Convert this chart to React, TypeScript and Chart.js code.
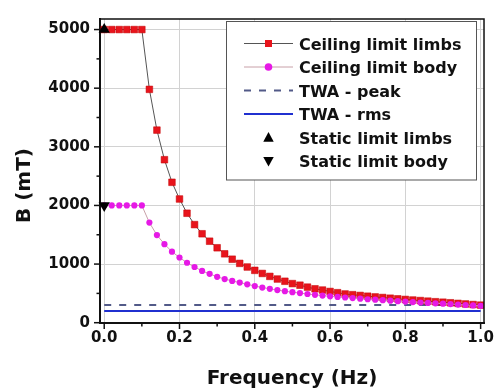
import React, { useEffect, useRef } from 'react';
import { Chart, registerables } from 'chart.js';

Chart.register(...registerables);

const FONT = '"DejaVu Sans", "Liberation Sans", sans-serif';

// Frequency (Hz)
const frequencies = [
  0, 0.02, 0.04, 0.06, 0.08, 0.1, 0.12, 0.14, 0.16, 0.18, 0.2, 0.22, 0.24, 0.26, 0.28, 0.3,
  0.32, 0.34, 0.36, 0.38, 0.4, 0.42, 0.44, 0.46, 0.48, 0.5, 0.52, 0.54, 0.56, 0.58, 0.6,
  0.62, 0.64, 0.66, 0.68, 0.7, 0.72, 0.74, 0.76, 0.78, 0.8, 0.82, 0.84, 0.86, 0.88, 0.9,
  0.92, 0.94, 0.96, 0.98, 1.0,
];

// B (mT)
const ceilingLimbs = [
  5000, 5000, 5000, 5000, 5000, 5000,
  3980, 3285, 2780, 2395, 2110, 1867, 1673, 1517, 1390, 1278,
  1175, 1083, 1012, 950, 893, 840, 790, 745, 707, 667,
  640, 607, 578, 557, 533, 512, 490, 478, 465, 452,
  440, 430, 418, 407, 397, 387, 378, 368, 358, 350,
  340, 330, 320, 310, 300,
];

const ceilingBody = [
  2000, 2000, 2000, 2000, 2000, 2000,
  1707, 1495, 1340, 1212, 1112, 1023, 950, 883, 833, 783,
  745, 712, 685, 655, 625, 600, 578, 557, 538, 520,
  505, 490, 476, 463, 450, 440, 430, 420, 410, 400,
  392, 384, 375, 367, 360, 352, 345, 338, 331, 324,
  317, 310, 302, 295, 288,
];

const twaX = [0, 1.0];
const twaPeak = [300, 300];
const twaRms = [200, 200];

const staticLimbsX = [0];
const staticLimbs = [5000];
const staticBodyX = [0];
const staticBody = [2000];

const xMajorTicks = [0, 0.2, 0.4, 0.6, 0.8, 1.0];
const xMinorTicks = [0.1, 0.3, 0.5, 0.7, 0.9];
const yMajorTicks = [0, 1000, 2000, 3000, 4000, 5000];
const yMinorTicks = [500, 1500, 2500, 3500, 4500];

const xTitle = 'Frequency (Hz)';
const yTitle = 'B (mT)';

const pts = (xs: number[], ys: number[]) => xs.map((x, i) => ({ x, y: ys[i] }));

const decorPlugin = {
  id: 'decor',
  afterDraw(chart: any) {
    const { ctx, chartArea: a, scales } = chart;
    const xs = scales.x;
    const ys = scales.y;
    ctx.save();
    // top / right frame
    ctx.strokeStyle = '#111';
    ctx.lineWidth = 1.5;
    ctx.beginPath();
    ctx.moveTo(a.left, a.top);
    ctx.lineTo(a.right, a.top);
    ctx.lineTo(a.right, a.bottom);
    ctx.stroke();

    // tick marks
    ctx.lineWidth = 1.5;
    const seg = (x1: number, y1: number, x2: number, y2: number) => {
      ctx.beginPath();
      ctx.moveTo(x1, y1);
      ctx.lineTo(x2, y2);
      ctx.stroke();
    };
    yMajorTicks.forEach((v) => { const p = ys.getPixelForValue(v); seg(a.left - 6, p, a.left, p); });
    yMinorTicks.forEach((v) => { const p = ys.getPixelForValue(v); seg(a.left - 3.5, p, a.left, p); });
    xMajorTicks.forEach((v) => { const p = xs.getPixelForValue(v); seg(p, a.bottom, p, a.bottom + 6); });
    xMinorTicks.forEach((v) => { const p = xs.getPixelForValue(v); seg(p, a.bottom, p, a.bottom + 3.5); });

    // axis titles
    ctx.fillStyle = '#111';
    ctx.font = `bold 20px ${FONT}`;
    ctx.textAlign = 'center';
    ctx.textBaseline = 'alphabetic';
    ctx.fillText(xTitle, (a.left + a.right) / 2, 383.5);
    ctx.save();
    ctx.translate(30, 185.5);
    ctx.rotate(-Math.PI / 2);
    ctx.fillText(yTitle, 0, 0);
    ctx.restore();

    // legend
    const bx = 226.5, by = 21.5, bw = 250, bh = 158.5;
    ctx.fillStyle = '#fff';
    ctx.fillRect(bx, by, bw, bh);
    ctx.strokeStyle = '#555';
    ctx.lineWidth = 1;
    ctx.strokeRect(bx, by, bw, bh);
    const rows = [43.5, 67, 90.5, 114, 137.5, 161];
    const lx1 = 244, lx2 = 293, mx = 268.5, tx = 299;
    chart.data.datasets.forEach((ds: any, i: number) => {
      const cy = rows[i];
      if (ds.showLine !== false) {
        ctx.save();
        ctx.strokeStyle = ds.borderColor;
        ctx.lineWidth = Math.max(1, ds.borderWidth);
        ctx.setLineDash(ds.borderDash || []);
        seg(lx1, cy, lx2, cy);
        ctx.restore();
      }
      if (ds.pointRadius > 0) {
        ctx.save();
        ctx.fillStyle = ds.pointBackgroundColor;
        ctx.strokeStyle = ds.pointBorderColor;
        ctx.lineWidth = 0.5;
        const r = ds.legendRadius;
        ctx.beginPath();
        if (ds.pointStyle === 'rect') {
          ctx.rect(mx - r, cy - r, 2 * r, 2 * r);
        } else if (ds.pointStyle === 'circle') {
          ctx.arc(mx, cy, r, 0, Math.PI * 2);
        } else {
          const dir = ds.pointRotation === 180 ? -1 : 1;
          ctx.moveTo(mx, cy - dir * r);
          ctx.lineTo(mx + r * 0.95, cy + dir * r * 0.75);
          ctx.lineTo(mx - r * 0.95, cy + dir * r * 0.75);
          ctx.closePath();
        }
        ctx.fill();
        ctx.restore();
      }
      ctx.fillStyle = '#111';
      ctx.font = `bold 16px ${FONT}`;
      ctx.textAlign = 'left';
      ctx.textBaseline = 'alphabetic';
      ctx.fillText(ds.label, tx, cy + 6);
    });
    ctx.restore();
  },
};

export default function App() {
  const ref = useRef<HTMLCanvasElement>(null);

  useEffect(() => {
    document.body.style.margin = '0';
    const canvas = ref.current;
    if (!canvas) return;
    const chart = new Chart(canvas, {
      type: 'line',
      data: {
        datasets: [
          {
            label: 'Ceiling limit limbs',
            data: pts(frequencies, ceilingLimbs),
            borderColor: '#555555',
            borderWidth: 1,
            pointStyle: 'rect',
            pointRadius: 4.7,
            pointBackgroundColor: '#e8141c',
            pointBorderColor: '#c00000',
            pointBorderWidth: 0.5,
            legendRadius: 3.5,
            order: 2,
          } as any,
          {
            label: 'Ceiling limit body',
            data: pts(frequencies, ceilingBody),
            borderColor: '#c8a0a8',
            borderWidth: 1,
            pointStyle: 'circle',
            pointRadius: 3.1,
            pointBackgroundColor: '#e619e6',
            pointBorderColor: '#e619e6',
            pointBorderWidth: 0,
            legendRadius: 3.8,
            order: 1,
          } as any,
          {
            label: 'TWA - peak',
            data: pts(twaX, twaPeak),
            borderColor: '#525a88',
            borderWidth: 2,
            borderDash: [7, 8],
            pointRadius: 0,
            order: 4,
          } as any,
          {
            label: 'TWA - rms',
            data: pts(twaX, twaRms),
            borderColor: '#2030d0',
            borderWidth: 2,
            pointRadius: 0,
            order: 3,
          } as any,
          {
            label: 'Static limit limbs',
            data: pts(staticLimbsX, staticLimbs),
            showLine: false,
            pointStyle: 'triangle',
            pointRadius: 6.5,
            pointBackgroundColor: '#000',
            pointBorderColor: '#000',
            pointBorderWidth: 0,
            legendRadius: 5.5,
            clip: false,
            order: 0,
          } as any,
          {
            label: 'Static limit body',
            data: pts(staticBodyX, staticBody),
            showLine: false,
            pointStyle: 'triangle',
            pointRotation: 180,
            rotation: 180,
            pointRadius: 6.5,
            pointBackgroundColor: '#000',
            pointBorderColor: '#000',
            pointBorderWidth: 0,
            legendRadius: 5.5,
            clip: false,
            order: 0,
          } as any,
        ],
      },
      options: {
        responsive: false,
        animation: false,
        events: [],
        layout: { padding: { top: 12, right: 10, left: 0, bottom: 0 } },
        plugins: {
          legend: { display: false },
          tooltip: { enabled: false },
        },
        scales: {
          x: {
            type: 'linear',
            min: -0.0112,
            max: 1.009,
            afterFit: (s: any) => { s.height = 68; },
            afterBuildTicks: (s: any) => {
              s.ticks = [...xMajorTicks, ...xMinorTicks].sort((p, q) => p - q).map((v) => ({ value: v }));
            },
            border: { display: true, color: '#111', width: 2 },
            grid: {
              drawTicks: false,
              lineWidth: 1,
              color: (c: any) =>
                c.tick && xMajorTicks.some((m) => Math.abs(m - c.tick.value) < 1e-9) ? '#d2d2d2' : 'rgba(0,0,0,0)',
            },
            ticks: {
              autoSkip: false,
              maxRotation: 0,
              padding: 6,
              color: '#111',
              font: { family: FONT, size: 15, weight: 'bold' },
              callback: (v: any) => (xMajorTicks.some((m) => Math.abs(m - v) < 1e-9) ? Number(v).toFixed(1) : ''),
            },
          },
          y: {
            type: 'linear',
            min: -5,
            max: 5180,
            afterFit: (s: any) => { s.width = 100; },
            afterBuildTicks: (s: any) => {
              s.ticks = [...yMajorTicks, ...yMinorTicks].sort((p, q) => p - q).map((v) => ({ value: v }));
            },
            border: { display: true, color: '#111', width: 2 },
            grid: {
              drawTicks: false,
              lineWidth: 1,
              color: (c: any) =>
                c.tick && yMajorTicks.includes(c.tick.value) ? '#d2d2d2' : 'rgba(0,0,0,0)',
            },
            ticks: {
              autoSkip: false,
              padding: 10,
              color: '#111',
              font: { family: FONT, size: 15, weight: 'bold' },
              callback: (v: any) => (yMajorTicks.includes(Number(v)) ? String(v) : ''),
            },
          },
        },
      } as any,
      plugins: [decorPlugin],
    });
    return () => chart.destroy();
  }, []);

  return (
    <div style={{ width: 500, height: 391, background: '#fff' }}>
      <canvas ref={ref} width={500} height={391} style={{ display: 'block' }} />
    </div>
  );
}
